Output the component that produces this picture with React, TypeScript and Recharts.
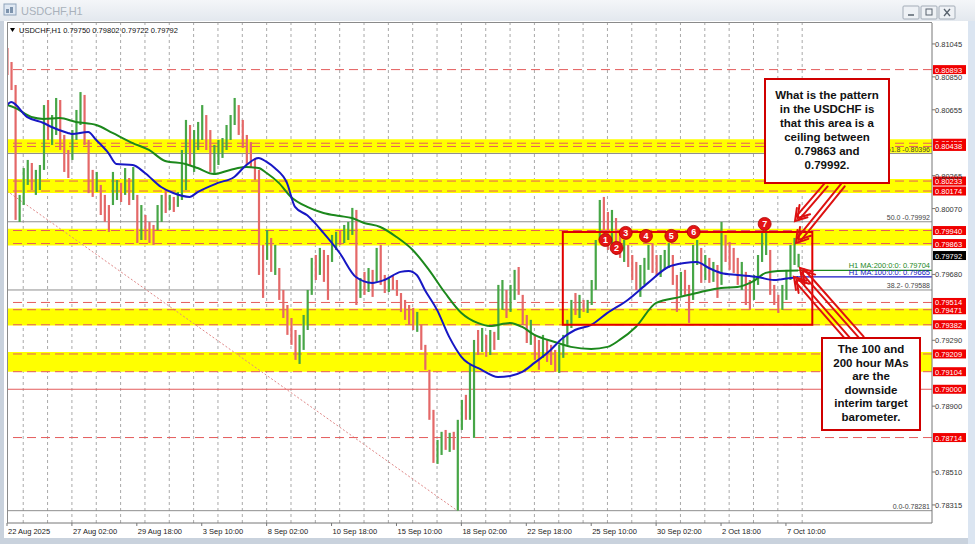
import React from 'react'
import { ComposedChart, Bar, Line, XAxis, YAxis, ReferenceLine, ReferenceArea, ReferenceDot } from 'recharts'

const FONT = '"Liberation Sans", Arial, sans-serif'

// USDCHF H1 — one drawn candle per 4 hourly bars (high, low, up/down)
const candleHigh = [
  0.81021, 0.80938, 0.80802, 0.80151, 0.8031, 0.80358, 0.8034, 0.80299, 0.80328, 0.80683,
  0.80713, 0.80624, 0.80725, 0.80713, 0.80506, 0.80417, 0.80535, 0.80654, 0.8076, 0.80743,
  0.80476, 0.80299, 0.80287, 0.8021, 0.80151, 0.80091, 0.80287, 0.80239, 0.80222, 0.8031,
  0.80251, 0.80316, 0.80151, 0.80091, 0.80032, 0.79991, 0.79973, 0.80091, 0.80151, 0.8018,
  0.80151, 0.80139, 0.80168, 0.80417, 0.80595, 0.80565, 0.80535, 0.80583, 0.80683, 0.80624,
  0.80535, 0.80447, 0.80476, 0.80488, 0.80565, 0.80624, 0.80725, 0.80683, 0.80595, 0.80506,
  0.80464, 0.8037, 0.80299, 0.79855, 0.79943, 0.79896, 0.79855, 0.79718, 0.79588, 0.79499,
  0.79422, 0.79351, 0.79322, 0.7944, 0.79588, 0.79778, 0.79795, 0.79837, 0.79825, 0.79795,
  0.79914, 0.79932, 0.79943, 0.79973, 0.79991, 0.80074, 0.80062, 0.79659, 0.79695, 0.79718,
  0.79707, 0.79837, 0.79855, 0.79677, 0.79659, 0.79671, 0.79647, 0.7957, 0.79529, 0.79499,
  0.79482, 0.79458, 0.79381, 0.79263, 0.79115, 0.78878, 0.787, 0.78748, 0.78759, 0.78742,
  0.78748, 0.78819, 0.78937, 0.78967, 0.79144, 0.79292, 0.79351, 0.79363, 0.79322, 0.79351,
  0.7934, 0.79618, 0.79647, 0.79588, 0.79618, 0.79707, 0.79724, 0.79559, 0.7944, 0.79411,
  0.79322, 0.79292, 0.79322, 0.79292, 0.79263, 0.79233, 0.79263, 0.79322, 0.79411, 0.79529,
  0.7957, 0.79559, 0.79529, 0.79529, 0.79647, 0.79884, 0.80121, 0.80139, 0.8005, 0.80062,
  0.80014, 0.79943, 0.79884, 0.79855, 0.79795, 0.79754, 0.79736, 0.79778, 0.79855, 0.79866,
  0.79795, 0.79795, 0.79825, 0.79866, 0.79795, 0.79677, 0.79695, 0.79707, 0.79618, 0.79855,
  0.79884, 0.79837, 0.79795, 0.79778, 0.79754, 0.79736, 0.79991, 0.79914, 0.79872, 0.79837,
  0.79778, 0.79754, 0.79695, 0.79647, 0.79677, 0.79795, 0.79932, 0.79991, 0.79825, 0.79618,
  0.79559, 0.79618, 0.79707, 0.79855, 0.79896, 0.79802,
]
const candleLow = [
  0.80861, 0.80772, 0.80003, 0.79991, 0.80091, 0.8021, 0.8018, 0.80151, 0.8018, 0.80299,
  0.80476, 0.80447, 0.80506, 0.80417, 0.80287, 0.80251, 0.80358, 0.80476, 0.80565, 0.80447,
  0.80162, 0.80139, 0.80168, 0.80032, 0.79991, 0.79932, 0.80091, 0.80121, 0.80109, 0.80151,
  0.80091, 0.80121, 0.79866, 0.79884, 0.79884, 0.79866, 0.79855, 0.79943, 0.79991, 0.80044,
  0.80062, 0.8005, 0.8008, 0.80121, 0.8018, 0.80328, 0.80287, 0.80417, 0.80476, 0.80417,
  0.80287, 0.80269, 0.80328, 0.8037, 0.80417, 0.80476, 0.80565, 0.80506, 0.80429, 0.80328,
  0.8031, 0.80239, 0.79677, 0.79541, 0.79766, 0.79695, 0.79677, 0.79529, 0.79422, 0.79322,
  0.79263, 0.79174, 0.7915, 0.79233, 0.79351, 0.79559, 0.79647, 0.79677, 0.79636, 0.79529,
  0.79754, 0.79825, 0.79855, 0.79866, 0.79884, 0.79914, 0.79499, 0.79541, 0.79559, 0.79576,
  0.79547, 0.79636, 0.79618, 0.7957, 0.79576, 0.79588, 0.79553, 0.79458, 0.79411, 0.79381,
  0.79351, 0.7934, 0.79233, 0.79115, 0.78819, 0.78564, 0.78558, 0.78611, 0.78641, 0.78629,
  0.78641, 0.78281, 0.78759, 0.78819, 0.78819, 0.78712, 0.79203, 0.79221, 0.79192, 0.79203,
  0.79233, 0.79292, 0.7947, 0.79422, 0.79458, 0.79529, 0.79559, 0.79381, 0.79274, 0.79263,
  0.79174, 0.79115, 0.79186, 0.79162, 0.79144, 0.79103, 0.79097, 0.79186, 0.79263, 0.79363,
  0.7944, 0.79422, 0.79458, 0.79452, 0.79499, 0.79588, 0.79884, 0.79914, 0.79825, 0.79855,
  0.79795, 0.79778, 0.79754, 0.79724, 0.79647, 0.79588, 0.79547, 0.79618, 0.79707, 0.79689,
  0.79677, 0.79665, 0.79707, 0.79718, 0.79618, 0.79458, 0.79553, 0.79559, 0.79393, 0.79529,
  0.79736, 0.7963, 0.79647, 0.7963, 0.79636, 0.79541, 0.79618, 0.79754, 0.79707, 0.79689,
  0.79618, 0.79588, 0.79499, 0.7947, 0.79529, 0.79618, 0.79754, 0.79795, 0.79559, 0.79499,
  0.79452, 0.7947, 0.79529, 0.79647, 0.79736, 0.79722,
]
const candleUp = [
  0, 0, 0, 1, 1, 1, 0, 1, 1, 1,
  0, 1, 1, 0, 0, 0, 1, 1, 1, 0,
  0, 0, 1, 0, 0, 0, 1, 1, 0, 1,
  0, 1, 0, 1, 0, 0, 0, 1, 1, 0,
  1, 0, 1, 1, 1, 0, 1, 1, 1, 0,
  0, 1, 1, 1, 1, 1, 1, 0, 0, 0,
  0, 0, 0, 0, 1, 0, 1, 0, 0, 0,
  0, 0, 1, 1, 1, 1, 0, 1, 0, 0,
  1, 1, 0, 1, 1, 1, 0, 1, 0, 1,
  0, 1, 0, 0, 1, 0, 0, 0, 0, 0,
  0, 1, 0, 0, 0, 0, 1, 1, 0, 1,
  0, 1, 1, 0, 1, 1, 0, 1, 0, 1,
  0, 1, 1, 0, 1, 1, 0, 0, 0, 1,
  0, 0, 1, 0, 0, 0, 1, 1, 1, 1,
  0, 1, 0, 1, 1, 1, 1, 0, 0, 1,
  0, 0, 1, 0, 0, 0, 1, 1, 1, 0,
  0, 1, 1, 1, 0, 0, 1, 0, 0, 1,
  1, 0, 1, 0, 1, 0, 1, 0, 0, 0,
  0, 1, 0, 0, 1, 1, 1, 1, 0, 0,
  0, 1, 1, 1, 1, 1,
]

// 100 hour MA (blue) and 200 hour MA (green), bar index -> value
const ma100Bars = [0, 4, 20, 36, 44, 60, 64, 80, 88, 100, 108, 124, 136, 152, 164, 180, 188, 208, 224, 236, 248, 256, 264, 276, 284, 296, 312, 328, 344, 360, 372, 388, 396, 404, 412, 424, 436, 448, 468, 484, 496, 508, 520, 536, 548, 560, 576, 592, 612, 632, 652, 668, 680, 692, 704, 720, 740, 756, 764, 780]
const ma100 = [0.80683, 0.80701, 0.80612, 0.80577, 0.80553, 0.80518, 0.80512, 0.80524, 0.80476, 0.80399, 0.80334, 0.80328, 0.80281, 0.80198, 0.80162, 0.80139, 0.80168, 0.80222, 0.80257, 0.80328, 0.8037, 0.80346, 0.8031, 0.80222, 0.8008, 0.8003, 0.79926, 0.79807, 0.79665, 0.7963, 0.79647, 0.79695, 0.79701, 0.79677, 0.79588, 0.7947, 0.7931, 0.79192, 0.79115, 0.79073, 0.79079, 0.79103, 0.79156, 0.79233, 0.79304, 0.79351, 0.79381, 0.79452, 0.79529, 0.7963, 0.79724, 0.79748, 0.79754, 0.79718, 0.79689, 0.79677, 0.79665, 0.79647, 0.79652, 0.79665]
const ma200Bars = [0, 8, 24, 36, 52, 68, 88, 104, 124, 140, 156, 176, 188, 204, 220, 236, 248, 256, 268, 280, 296, 312, 328, 340, 352, 368, 384, 400, 416, 432, 448, 464, 476, 496, 508, 520, 540, 556, 576, 592, 604, 620, 640, 664, 684, 704, 720, 736, 748, 760, 780]
const ma200 = [0.80683, 0.80666, 0.80612, 0.80601, 0.80606, 0.80583, 0.80565, 0.80518, 0.80458, 0.80417, 0.80352, 0.80334, 0.8031, 0.80275, 0.80299, 0.80316, 0.8031, 0.80281, 0.80222, 0.80139, 0.8008, 0.80044, 0.80026, 0.80014, 0.79985, 0.79961, 0.79902, 0.79825, 0.79707, 0.7957, 0.79452, 0.79393, 0.79375, 0.79393, 0.79369, 0.79322, 0.7928, 0.79251, 0.79239, 0.79251, 0.79292, 0.79369, 0.79511, 0.79547, 0.79576, 0.796, 0.79606, 0.79641, 0.79689, 0.79701, 0.79704]

const timeTickBars = [0, 64, 128, 192, 256, 320, 384, 448, 512, 576, 640, 704, 768]
const timeLabels = ['22 Aug 2025', '27 Aug 02:00', '29 Aug 18:00', '3 Sep 10:00', '8 Sep 02:00', '10 Sep 18:00', '15 Sep 10:00', '18 Sep 02:00', '22 Sep 18:00', '25 Sep 10:00', '30 Sep 02:00', '2 Oct 18:00', '7 Oct 10:00']
// price scale labels that are not hidden under the level tags
const priceTicks = [0.78315, 0.7851, 0.789, 0.7929, 0.7968, 0.8007, 0.80265, 0.80655, 0.8085, 0.81045]

// support / resistance zones and lines
const bandTops = [0.8048, 0.80245, 0.7995, 0.79478, 0.79221]
const bandBottoms = [0.804, 0.80162, 0.79852, 0.79378, 0.79103]
const levelPrices = [0.80893, 0.80457, 0.80438, 0.80233, 0.80174, 0.7994, 0.79863, 0.79514, 0.79471, 0.79382, 0.79209, 0.79104, 0.79, 0.78714]
const solidLevel = 0.79
const fibPrices = [0.80396, 0.79992, 0.79588, 0.78281]
const fibLabels = ['61.8 -0.80396', '50.0 -0.79992', '38.2- 0.79588', '0.0-0.78281']
const fibTrendStart = { bar: 0, price: 0.80174 }
const fibTrendEnd = { bar: 444, price: 0.78281 }

const markerLabels = ['1', '2', '3', '4', '5', '6', '7']
const markerBars = [590, 601, 610, 630, 655, 677, 747]
const markerPrices = [0.79884, 0.79837, 0.79926, 0.79908, 0.79908, 0.79932, 0.79979]

const ceilingBars = [548, 794]
const ceilingPrices = [0.79382, 0.79932]
const lastBar = 780
const lastPrice = 0.79792
const lastMa200 = 0.79704
const lastMa100 = 0.79665

const gridBars = Array.from({ length: 33 }, (_, k) => 16 + 24 * k)

type Row = { bar: number; range?: [number, number]; up?: number; ma100?: number; ma200?: number }
const rowMap = new Map<number, Row>()
const rowAt = (bar: number) => {
  let r = rowMap.get(bar)
  if (!r) {
    r = { bar }
    rowMap.set(bar, r)
  }
  return r
}
candleHigh.forEach((h, i) => {
  const r = rowAt(i * 4)
  r.range = [candleLow[i], h]
  r.up = candleUp[i]
})
ma100Bars.forEach((b, i) => { rowAt(b).ma100 = ma100[i] })
ma200Bars.forEach((b, i) => { rowAt(b).ma200 = ma200[i] })
const data = [...rowMap.values()].sort((a, b) => a.bar - b.bar)

const Candle = (props: any) => {
  const { x, y, width, height, payload } = props
  if (!payload || !payload.range || !isFinite(y)) return null
  const cx = x + width / 2
  const top = Math.min(y, y + height)
  return <rect x={cx - 1.1} y={top} width={2.2} height={Math.max(Math.abs(height), 1)} fill={payload.up ? '#47a647' : '#e46868'} />
}

const priceTag = (text: string, bg: string) => (p: any) => {
  const vb = p.viewBox
  if (!vb) return null
  const x = vb.x + vb.width + 1
  return (
    <g>
      <rect x={x} y={vb.y - 4.5} width={33} height={9} fill={bg} />
      <text x={x + 2} y={vb.y + 3} fontSize={7.5} fill="#fff" fontFamily={FONT}>{text}</text>
    </g>
  )
}

const rightText = (text: string, color: string, size = 7.5) => (p: any) => {
  const vb = p.viewBox
  if (!vb) return null
  return (
    <text x={vb.x + vb.width - 2} y={vb.y - 2} fontSize={size} fill={color} textAnchor="end" fontFamily={FONT}>{text}</text>
  )
}

const TimeTick = (p: any) => {
  const i = timeTickBars.indexOf(p.payload.value)
  return <text x={p.x + 1} y={p.y + 6} fontSize={7.5} fill="#222" fontFamily={FONT}>{timeLabels[i]}</text>
}

const PriceTick = (p: any) => (
  <text x={p.x} y={p.y + 3} fontSize={7.5} fill="#333" fontFamily={FONT}>{Number(p.payload.value).toFixed(5)}</text>
)

const Marker = (label: string) => (p: any) => (
  <g>
    <circle cx={p.cx} cy={p.cy} r={6.5} fill="#e31414" stroke="#b00000" strokeWidth={0.8} />
    <text x={p.cx} y={p.cy + 3.5} fontSize={9} fontWeight={700} fill="#fff" textAnchor="middle" fontFamily={FONT}>{label}</text>
  </g>
)

function DoubleArrow({ x1, y1, x2, y2 }: { x1: number; y1: number; x2: number; y2: number }) {
  const dx = x2 - x1
  const dy = y2 - y1
  const len = Math.hypot(dx, dy)
  const ux = dx / len
  const uy = dy / len
  const nx = -uy
  const ny = ux
  const g = 2.2
  const c = '#dd1111'
  const chevron = (back: number) => {
    const tx = x2 - ux * back
    const ty = y2 - uy * back
    const hx = tx - ux * 11
    const hy = ty - uy * 11
    return `M${hx + nx * 7},${hy + ny * 7} L${tx},${ty} L${hx - nx * 7},${hy - ny * 7}`
  }
  return (
    <g stroke={c} strokeWidth={2} fill="none" strokeLinecap="round">
      <line x1={x1 + nx * g} y1={y1 + ny * g} x2={x2 - ux * 4 + nx * g} y2={y2 - uy * 4 + ny * g} />
      <line x1={x1 - nx * g} y1={y1 - ny * g} x2={x2 - ux * 4 - nx * g} y2={y2 - uy * 4 - ny * g} />
      <path d={chevron(0)} />
      <path d={chevron(4)} />
    </g>
  )
}

const box1Lines = ['What is the pattern', 'in the USDCHF is', 'that this area is a', 'ceiling between', '0.79863 and', '0.79992.']
const box2Lines = ['The 100 and', '200 hour MAs', 'are the', 'downside', 'interim target', 'barometer.']

export default function App() {
  return (
    <div style={{ position: 'absolute', left: 0, top: 0, width: 975, height: 544, background: '#c9d2dd', overflow: 'hidden' }}>
      {/* title bar */}
      <div style={{ position: 'absolute', left: 0, top: 0, width: 975, height: 21, background: 'linear-gradient(#f4f6f9, #e3e8ee)' }} />
      <div style={{ position: 'absolute', left: 4, top: 21, width: 964, height: 517, background: '#fff' }} />
      <div style={{ position: 'absolute', left: 968, top: 21, width: 7, height: 523, background: '#dbe5f1' }} />

      <div style={{ position: 'absolute', left: 0, top: 0 }}>
        <ComposedChart width={975} height={544} data={data} margin={{ top: 23, right: 0, bottom: 0, left: 7 }}>
          <XAxis
            dataKey="bar"
            type="number"
            domain={[0, 912]}
            ticks={timeTickBars}
            interval={0}
            height={21}
            tickSize={3}
            tickMargin={2}
            tick={TimeTick}
            stroke="#777"
            allowDataOverflow
          />
          <YAxis
            orientation="right"
            type="number"
            domain={[0.78208, 0.81169]}
            ticks={priceTicks}
            interval={0}
            width={43}
            tickSize={3}
            tickMargin={0}
            tick={PriceTick}
            stroke="#777"
            allowDataOverflow
          />
          {gridBars.map((b) => (
            <ReferenceLine key={'g' + b} x={b} stroke="#a9a9a9" strokeDasharray="3 3" zIndex={-95} />
          ))}
          {bandTops.map((t, i) => (
            <ReferenceArea key={'band' + i} y1={bandBottoms[i]} y2={t} fill="#ffff00" fillOpacity={1} stroke="none" zIndex={-90} />
          ))}
          {fibPrices.map((p, i) => (
            <ReferenceLine key={'fib' + i} y={p} stroke="#8f8f8f" strokeWidth={1} zIndex={-85} label={rightText(fibLabels[i], '#444', 7)} />
          ))}
          <ReferenceLine
            segment={[{ x: fibTrendStart.bar, y: fibTrendStart.price }, { x: fibTrendEnd.bar, y: fibTrendEnd.price }]}
            stroke="#e08888"
            strokeDasharray="2 2"
            zIndex={-85}
          />
          {levelPrices.map((p, i) => (
            <ReferenceLine
              key={'lvl' + i}
              y={p}
              stroke="#e45c5c"
              strokeDasharray={p === solidLevel ? undefined : '9 5'}
              zIndex={-80}
              label={priceTag(p.toFixed(5), '#f00000')}
            />
          ))}
          <ReferenceLine y={lastPrice} stroke="none" label={priceTag(lastPrice.toFixed(5), '#000')} />
          <Bar dataKey="range" barSize={3} shape={Candle} isAnimationActive={false} />
          <Line dataKey="ma200" type="monotone" stroke="#1c881c" strokeWidth={2} dot={false} connectNulls isAnimationActive={false} />
          <Line dataKey="ma100" type="monotone" stroke="#1717c4" strokeWidth={2} dot={false} connectNulls isAnimationActive={false} />
          <ReferenceLine
            segment={[{ x: lastBar, y: lastMa200 }, { x: 912, y: lastMa200 }]}
            stroke="#1c881c"
            strokeWidth={1.2}
            label={rightText('H1 MA:200:0:0: ' + lastMa200.toFixed(5), '#1c881c')}
          />
          <ReferenceLine
            segment={[{ x: lastBar, y: lastMa100 }, { x: 912, y: lastMa100 }]}
            stroke="#1717c4"
            strokeWidth={1.2}
            label={rightText('H1 MA:100:0:0: ' + lastMa100.toFixed(5), '#1717c4')}
          />
          <ReferenceArea
            x1={ceilingBars[0]}
            x2={ceilingBars[1]}
            y1={ceilingPrices[0]}
            y2={ceilingPrices[1]}
            fill="none"
            fillOpacity={0}
            stroke="#e00000"
            strokeWidth={2}
            zIndex={500}
          />
          {markerLabels.map((m, i) => (
            <ReferenceDot key={'m' + m} x={markerBars[i]} y={markerPrices[i]} r={6.5} shape={Marker(m)} zIndex={600} />
          ))}
        </ComposedChart>
      </div>

      <svg width={975} height={544} style={{ position: 'absolute', left: 0, top: 0, pointerEvents: 'none' }}>
        {/* title bar content */}
        <rect x={4} y={4} width={12} height={11} fill="#dfe8f3" stroke="#8fa3bb" />
        <rect x={6} y={9} width={3} height={4} fill="#7d93ad" />
        <rect x={10} y={7} width={3} height={6} fill="#7d93ad" />
        <text x={21} y={15} fontSize={11} fill="#a9b1bb" fontFamily={FONT}>USDCHF,H1</text>
        {[903, 921, 939].map((bx, i) => (
          <g key={'btn' + i}>
            <rect x={bx} y={6} width={16} height={13} fill="#eef1f5" stroke="#a3acb7" rx={1} />
            {i === 0 && <line x1={bx + 5} y1={15} x2={bx + 11} y2={15} stroke="#59636e" strokeWidth={1.5} />}
            {i === 1 && <rect x={bx + 5} y={9} width={6} height={6} fill="none" stroke="#59636e" />}
            {i === 2 && (
              <g stroke="#59636e" strokeWidth={1.3}>
                <line x1={bx + 5} y1={9} x2={bx + 11} y2={16} />
                <line x1={bx + 11} y1={9} x2={bx + 5} y2={16} />
              </g>
            )}
          </g>
        ))}
        {/* plot frame */}
        <line x1={7} y1={22.5} x2={932} y2={22.5} stroke="#8a8a8a" />
        <line x1={7.5} y1={22} x2={7.5} y2={523} stroke="#8a8a8a" />
        {/* chart info line */}
        <polygon points="10,28 15,28 12.5,32" fill="#000" />
        <text x={19} y={33} fontSize={7.5} fill="#111" fontFamily={FONT}>USDCHF,H1  0.79750 0.79802 0.79722 0.79792</text>

        {/* annotations */}
        <DoubleArrow x1={826} y1={185} x2={795} y2={221} />
        <DoubleArrow x1={843} y1={185} x2={796} y2={243} />
        <DoubleArrow x1={862} y1={338} x2={800} y2={268} />
        <DoubleArrow x1={849} y1={340} x2={794} y2={277} />

        <rect x={765} y={79} width={124} height={104} fill="#fff" stroke="#d00000" strokeWidth={2} />
        {box1Lines.map((t, i) => (
          <text key={'b1' + i} x={827} y={99 + i * 14} fontSize={11.5} fontWeight={700} fill="#111" textAnchor="middle" fontFamily={FONT}>{t}</text>
        ))}
        <rect x={822} y={338} width={98} height={92} fill="#fff" stroke="#d00000" strokeWidth={2} />
        {box2Lines.map((t, i) => (
          <text key={'b2' + i} x={871} y={353 + i * 13.6} fontSize={11.5} fontWeight={700} fill="#111" textAnchor="middle" fontFamily={FONT}>{t}</text>
        ))}
      </svg>
    </div>
  )
}
